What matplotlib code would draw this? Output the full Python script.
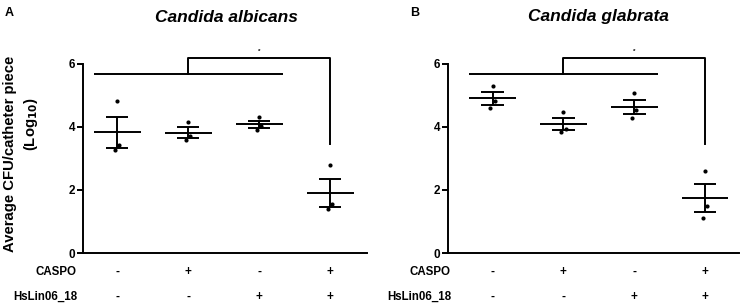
import numpy as np
import matplotlib
matplotlib.use("Agg")
import matplotlib.pyplot as plt
import matplotlib.transforms as mtransforms

plt.rcParams["font.family"] = ["Liberation Sans", "DejaVu Sans"]
plt.rcParams["font.weight"] = "bold"

""" data """

groups = [0, 1, 2, 3]
caspo = ["-", "+", "-", "+"]
hslin = ["-", "-", "+", "+"]

# log10 CFU per catheter piece, three replicates per group (high, mid, low)
albicans = [[4.81, 3.42, 3.27],
            [4.17, 3.72, 3.57],
            [4.31, 4.03, 3.91],
            [2.78, 1.56, 1.39]]
glabrata = [[5.30, 4.82, 4.59],
            [4.48, 3.95, 3.84],
            [5.08, 4.53, 4.29],
            [2.60, 1.49, 1.11]]

# significance bracket: groups 0-2 joined vs group 3
low_bar_y = 5.68
high_bar_y = 6.18
drop_y = 3.45
star_y = 6.40

""" style """

W, H = 743, 307
jitter = [0.0, 0.03, -0.035]
mean_half = 0.33
cap_half = 0.16
lw = 1.4


def draw_panel(ax, data, title, xlim, label_x_px, title_x_px, letter, letter_x_px):
    for g, vals in zip(groups, data):
        vals = np.array(vals)
        m = vals.mean()
        sem = vals.std(ddof=1) / np.sqrt(len(vals))
        ax.hlines(m, g - mean_half, g + mean_half, color="k", lw=lw)
        ax.hlines([m - sem, m + sem], g - cap_half, g + cap_half, color="k", lw=lw)
        ax.vlines(g, m - sem, m + sem, color="k", lw=lw)
        ax.plot(g + np.array(jitter), vals, "o", color="k", ms=3, mec="none")

    # bracket
    ax.hlines(low_bar_y, groups[0] - mean_half, groups[2] + mean_half, color="k", lw=lw)
    mid = (groups[0] + groups[2]) / 2
    ax.plot([mid, mid, groups[3], groups[3]],
            [low_bar_y, high_bar_y, high_bar_y, drop_y], color="k", lw=lw)
    ax.text((mid + groups[3]) / 2, star_y, "*", ha="center", va="center", fontsize=4.5)

    ax.set_xlim(*xlim)
    ax.set_ylim(0, 6.6)
    ax.set_yticks([0, 2, 4, 6])
    ax.set_xticks([])
    for s in ["top", "right"]:
        ax.spines[s].set_visible(False)
    ax.spines["left"].set_bounds(0, 6)
    ax.spines["left"].set_linewidth(lw)
    ax.spines["bottom"].set_linewidth(lw)
    ax.tick_params(axis="y", length=4, width=lw, pad=1.5, labelsize=8.5)
    for t in ax.get_yticklabels():
        t.set_fontweight("bold")

    trans = mtransforms.blended_transform_factory(ax.transData, fig.transFigure)
    for g, c, h in zip(groups, caspo, hslin):
        ax.text(g, 1 - 272 / H, c, transform=trans, ha="center", va="center",
                fontsize=8.5, fontweight="bold")
        ax.text(g, 1 - 297 / H, h, transform=trans, ha="center", va="center",
                fontsize=8.5, fontweight="bold")

    fig.text(label_x_px / W, 1 - 272 / H, "CASPO", ha="right", va="center",
             fontsize=8.3, fontweight="bold")
    fig.text(label_x_px / W, 1 - 297 / H, "HsLin06_18", ha="right", va="center",
             fontsize=8.3, fontweight="bold")
    fig.text(title_x_px / W, 1 - 17 / H, title, ha="center", va="center",
             fontsize=12.5, fontweight="bold", style="italic")
    fig.text(letter_x_px / W, 1 - 13 / H, letter, ha="left", va="center",
             fontsize=9, fontweight="bold")


fig = plt.figure(figsize=(W / 100, H / 100), dpi=100)

axA = fig.add_axes([83 / W, 1 - 253 / H, 284 / W, 208 / H])
axB = fig.add_axes([448 / W, 1 - 253 / H, 291 / W, 208 / H])

draw_panel(axA, albicans, "Candida albicans", (-0.48, 3.52), 77, 226, "A", 5)
draw_panel(axB, glabrata, "Candida glabrata", (-0.63, 3.48), 451, 598, "B", 410)

fig.text(10 / W, 1 - 154 / H, "Average CFU/catheter piece", rotation=90,
         ha="center", va="center", fontsize=10.7, fontweight="bold")
fig.text(31 / W, 1 - 124 / H, "(Log$_{\\mathbf{10}}$)", rotation=90,
         ha="center", va="center", fontsize=10.7, fontweight="bold")

fig.savefig("out.png", dpi=100)
